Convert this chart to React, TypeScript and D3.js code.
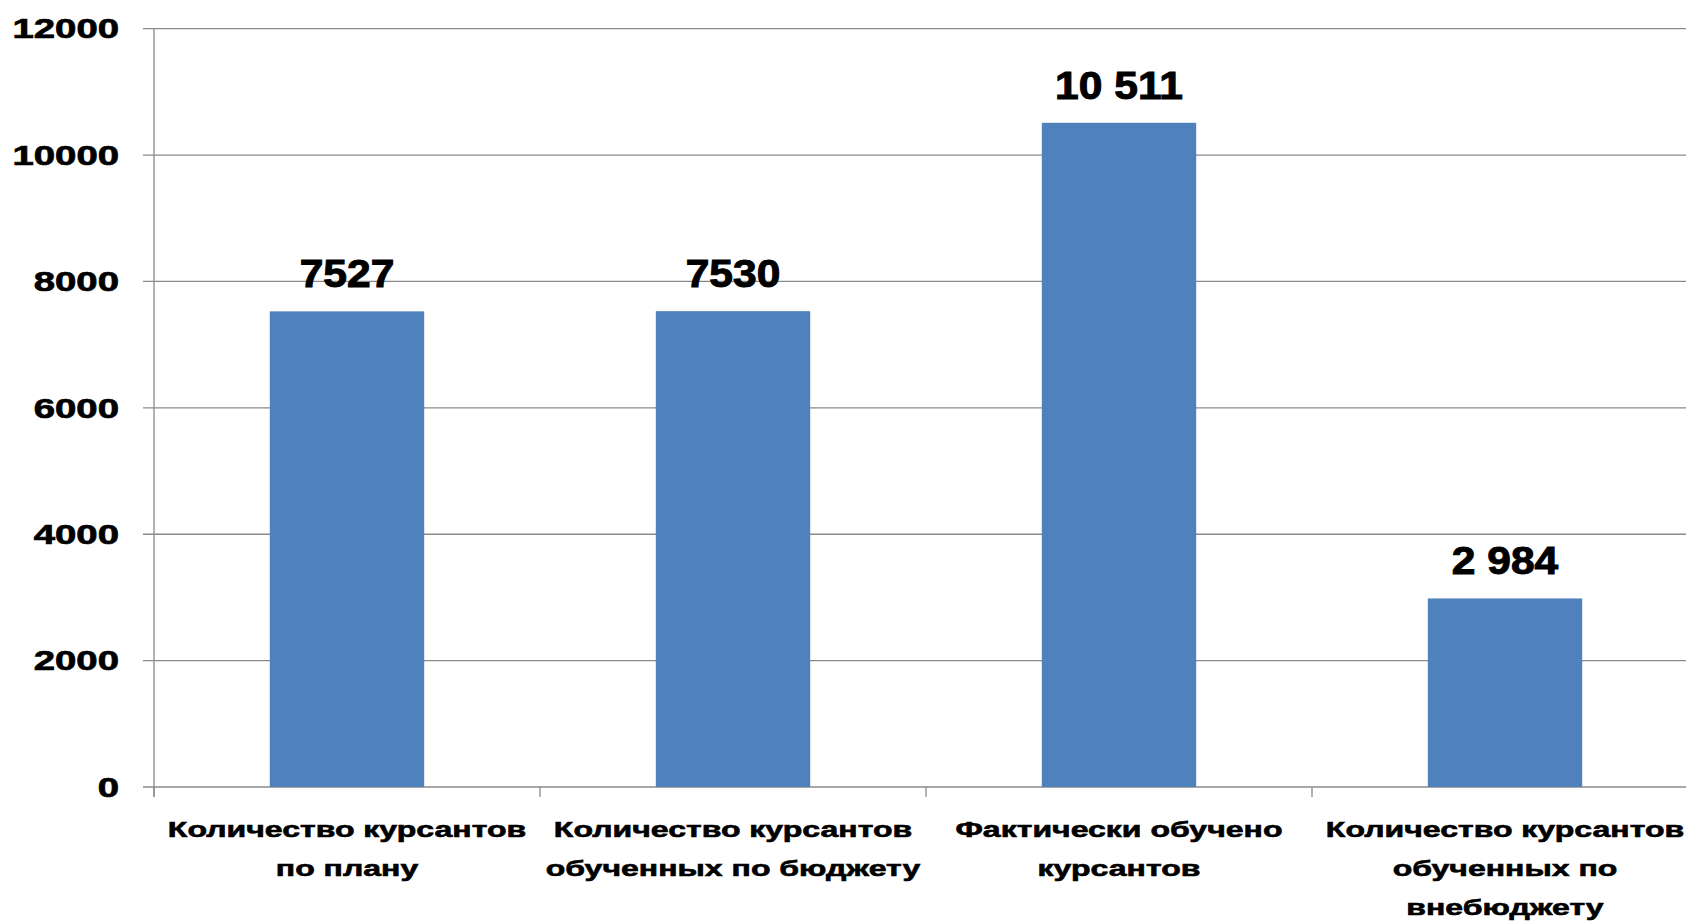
import * as React from "react";
import { scaleLinear, scaleBand } from "d3";

const categories = ["plan", "budget", "fact", "extra"];
const categoryLines = [
  ["Количество курсантов", "по плану"],
  ["Количество курсантов", "обученных по бюджету"],
  ["Фактически обучено", "курсантов"],
  ["Количество курсантов", "обученных по", "внебюджету"],
];
const values = [7527, 7530, 10511, 2984];
const valueLabels = ["7527", "7530", "10 511", "2 984"];
const yTicks = [0, 2000, 4000, 6000, 8000, 10000, 12000];

const W = 1686;
const H = 921;
const FONT = "'Liberation Sans', Arial, sans-serif";

const App = () => {
  const margin = { top: 28.7, left: 154, bottom: 787 };
  const y = scaleLinear().domain([0, 12000]).range([margin.bottom, margin.top]);
  // plot runs past the right edge of the picture, as in the source
  const x = scaleBand<string>().domain(categories).range([margin.left, margin.left + 4 * 386]);
  const bw = x.bandwidth();
  const barW = bw * 0.4;

  const gridColor = "#8a8a8a";

  return (
    <svg
      width={W}
      height={H}
      style={{ position: "absolute", left: 0, top: 0, background: "#fff" }}
    >
      <rect x={0} y={0} width={W} height={H} fill="#fff" />
      {/* gridlines and y ticks */}
      {yTicks.map(t => (
        <g key={t}>
          <line
            x1={margin.left - 11}
            x2={W}
            y1={y(t)}
            y2={y(t)}
            stroke={gridColor}
            strokeWidth={1.3}
          />
          <text
            transform={`translate(119,${y(t) + 9.7}) scale(1.42,1)`}
            textAnchor="end"
            fontFamily={FONT}
            fontWeight="bold"
            fontSize={27}
            fill="#000"
            stroke="#000"
            strokeWidth={0.7}
          >
            {t}
          </text>
        </g>
      ))}
      {/* y axis */}
      <line
        x1={margin.left}
        x2={margin.left}
        y1={margin.top}
        y2={margin.bottom + 10}
        stroke={gridColor}
        strokeWidth={1.3}
      />
      {/* category ticks */}
      {categories.map(c => (
        <line
          key={c}
          x1={x(c)!}
          x2={x(c)!}
          y1={margin.bottom}
          y2={margin.bottom + 10}
          stroke={gridColor}
          strokeWidth={1.3}
        />
      ))}
      {/* bars */}
      {categories.map((c, i) => (
        <rect
          key={c}
          x={x(c)! + (bw - barW) / 2}
          y={y(values[i])}
          width={barW}
          height={y(0) - y(values[i])}
          fill="#4F81BD"
        />
      ))}
      {/* value labels */}
      {categories.map((c, i) => (
        <text
          key={c}
          transform={`translate(${x(c)! + bw / 2},${y(values[i]) - 24}) scale(1.12,1)`}
          textAnchor="middle"
          fontFamily={FONT}
          fontWeight="bold"
          fontSize={38}
          fill="#000"
          stroke="#000"
          strokeWidth={1}
        >
          {valueLabels[i]}
        </text>
      ))}
      {/* category labels */}
      {categories.map((c, i) =>
        categoryLines[i].map((ln, j) => (
          <text
            key={c + j}
            transform={`translate(${x(c)! + bw / 2},${837 + j * 39}) scale(1.49,1)`}
            textAnchor="middle"
            fontFamily={FONT}
            fontWeight="bold"
            fontSize={21.5}
            fill="#000"
            stroke="#000"
            strokeWidth={0.6}
          >
            {ln}
          </text>
        ))
      )}
    </svg>
  );
};

export default App;
